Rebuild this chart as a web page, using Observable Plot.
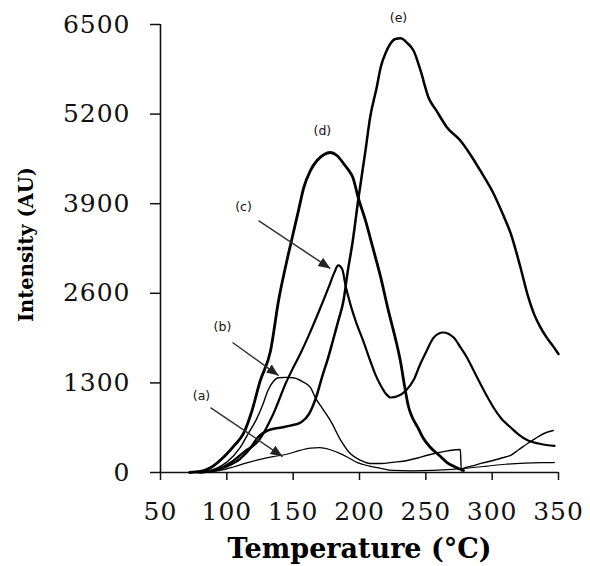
<!DOCTYPE html>
<html><head><meta charset="utf-8">
<script src="https://cdn.jsdelivr.net/npm/d3@7"></script>
<script src="https://cdn.jsdelivr.net/npm/@observablehq/plot@0.6"></script>
<style>body{margin:0;background:#fff} #chart{width:590px;height:566px}</style>
</head><body><div id="chart"></div>
<script>
const xTicks = [50, 100, 150, 200, 250, 300, 350];
const yTicks = [0, 1300, 2600, 3900, 5200, 6500];
const seriesNames = ["(a)", "(b)", "(c)", "(d)", "(e)"];

const tempA = [78, 88, 95, 105, 115, 125, 135, 145, 155, 163, 170, 178, 186, 193, 199, 207, 216, 225, 240, 255, 270, 282, 295, 310, 325, 338, 347];
const intA  = [0, 10, 30, 80, 140, 190, 230, 265, 320, 355, 362, 330, 270, 200, 140, 95, 60, 30, 25, 30, 45, 65, 90, 120, 135, 142, 145];

const tempB = [76, 85, 92, 100, 110, 116, 122, 127, 131, 135, 139, 145, 150, 157, 163, 167, 172, 178, 186, 193, 201, 208, 216, 226, 236, 244, 251, 260, 268, 276, 276.8, 278.5, 285, 292, 300, 307, 314, 320, 327, 333, 339, 346];
const intB  = [0, 20, 60, 150, 360, 560, 760, 980, 1190, 1320, 1375, 1380, 1375, 1320, 1235, 1075, 930, 755, 464, 276, 175, 130, 130, 150, 175, 210, 250, 290, 320, 334, 20, 60, 95, 135, 170, 210, 250, 330, 425, 500, 566, 610];

const tempC = [78, 88, 95, 103, 113, 124, 135, 145, 150, 155.5, 162, 170, 177, 181, 184, 187, 189.5, 193, 197, 203, 208, 212, 216, 220, 223.5, 229, 235, 241, 246, 250, 256, 263, 271, 276, 281, 286, 291, 296, 301, 307, 314, 320, 327, 335, 342, 347];
const intC  = [0, 15, 60, 145, 300, 464, 850, 1320, 1520, 1727, 2000, 2365, 2700, 2900, 3004, 2950, 2713, 2450, 2205, 1900, 1625, 1420, 1262, 1140, 1088, 1110, 1190, 1350, 1582, 1741, 1959, 2031, 1959, 1820, 1669, 1480, 1291, 1110, 943, 780, 653, 550, 464, 420, 395, 385];

const tempD = [72, 80, 88, 99, 106, 112.6, 119, 125, 133, 139, 145, 150, 154, 158, 163, 168, 173, 178, 183, 188, 192, 195, 199, 204.5, 210, 216, 222, 227, 231, 234, 237, 240, 244, 248, 253.5, 260, 266, 272, 278.4];
const intD  = [0, 15, 73, 250, 400, 566, 900, 1320, 1770, 2496, 3050, 3468, 3800, 4135, 4380, 4527, 4610, 4643, 4600, 4483, 4380, 4280, 3990, 3657, 3265, 2830, 2330, 1950, 1600, 1250, 950, 790, 650, 500, 363, 250, 145, 80, 29];

const tempE = [80, 90, 100, 110, 118, 123, 131, 140, 148, 156, 162, 167, 172, 176, 180, 184, 188, 191, 195, 199, 204.5, 208, 213, 216, 220, 223.4, 227, 231, 236, 240.7, 246, 252, 258, 266, 276, 284, 291, 301, 308, 314, 321, 327, 332, 336, 341, 346, 350];
const intE  = [0, 30, 90, 200, 360, 500, 610, 650, 680, 730, 850, 1075, 1400, 1640, 1915, 2200, 2500, 2900, 3370, 3950, 4670, 5150, 5590, 5880, 6100, 6225, 6290, 6300, 6230, 6123, 5833, 5441, 5250, 5006, 4817, 4600, 4382, 4048, 3750, 3468, 3000, 2560, 2280, 2120, 1960, 1830, 1720];

const labelTemp = [80.9, 96.7, 112.6, 172, 229.4];
const labelInt  = [1103, 2104, 3845, 4948, 6588];
const arrowFromTemp = [87.7, 104.3, 123.9];
const arrowFromInt  = [943, 1886, 3656];
const arrowToTemp   = [142, 139, 178];
const arrowToInt    = [232, 1407, 2960];

const temps = [tempA, tempB, tempC, tempD, tempE];
const ints = [intA, intB, intC, intD, intE];
const widths = [1.2, 1.4, 2.2, 2.8, 2.5];

const lineMarks = seriesNames.map((name, i) => {
  const rows = temps[i].map((t, j) => ({t, v: ints[i][j]}));
  return Plot.line(rows, {x: "t", y: "v", stroke: "#000", strokeWidth: widths[i], curve: "monotone-x"});
});

const labels = seriesNames.map((name, i) => ({name, t: labelTemp[i], v: labelInt[i]}));
const arrows = arrowFromTemp.map((t, i) => ({x1: t, y1: arrowFromInt[i], x2: arrowToTemp[i], y2: arrowToInt[i]}));

const chart = Plot.plot({
  width: 590, height: 566,
  marginLeft: 160, marginRight: 32, marginTop: 24, marginBottom: 94,
  style: {fontFamily: "DejaVu Serif", fontSize: "25px", color: "#111", background: "#fff", overflow: "visible"},
  x: {domain: [50, 350], ticks: xTicks, tickSize: 8, tickPadding: 22, label: null, tickFormat: d => String(d)},
  y: {domain: [0, 6500], ticks: yTicks, tickSize: 10, tickPadding: 20, label: null, tickFormat: d => String(d)},
  marks: [
    Plot.ruleY([0], {stroke: "#111", strokeWidth: 1.6}),
    Plot.ruleX([50], {stroke: "#111", strokeWidth: 1.6}),
    ...lineMarks,
    Plot.link(arrows, {x1: "x1", y1: "y1", x2: "x2", y2: "y2", stroke: "#333", strokeWidth: 1.5, markerEnd: "arrow"}),
    Plot.text(labels, {x: "t", y: "v", text: "name", fontFamily: "DejaVu Sans", fontSize: 12.5, fill: "#111"}),
    Plot.text(["Temperature (°C)"], {text: d => d, frameAnchor: "bottom", textAnchor: "middle", lineAnchor: "middle", dy: 77, fontFamily: "DejaVu Serif", fontWeight: "bold", fontSize: 27, fill: "#000"}),
    Plot.text(["Intensity (AU)"], {text: d => d, frameAnchor: "left", textAnchor: "middle", lineAnchor: "middle", dx: -134, dy: -4, rotate: -90, fontFamily: "DejaVu Serif", fontWeight: "bold", fontSize: 19.5, fill: "#000"})
  ]
});

chart.querySelectorAll("marker").forEach(m => {
  m.setAttribute("viewBox", "-12 -6 14 12");
  m.setAttribute("markerWidth", String(14 / 1.5));
  m.setAttribute("markerHeight", String(12 / 1.5));
  m.setAttribute("fill", "#222");
  m.setAttribute("stroke", "none");
  const p = m.querySelector("path");
  if (p) p.setAttribute("d", "M-12,-5L0,0L-12,5Z");
});
chart.querySelectorAll("g[aria-label*='axis'] text").forEach(t => t.style.letterSpacing = "1px");
chart.querySelectorAll("g[aria-label*='tick'] path, g[aria-label*='tick'] line").forEach(el => el.setAttribute("stroke-width", "1.5"));

document.getElementById("chart").appendChild(chart);
</script>
</body></html>
